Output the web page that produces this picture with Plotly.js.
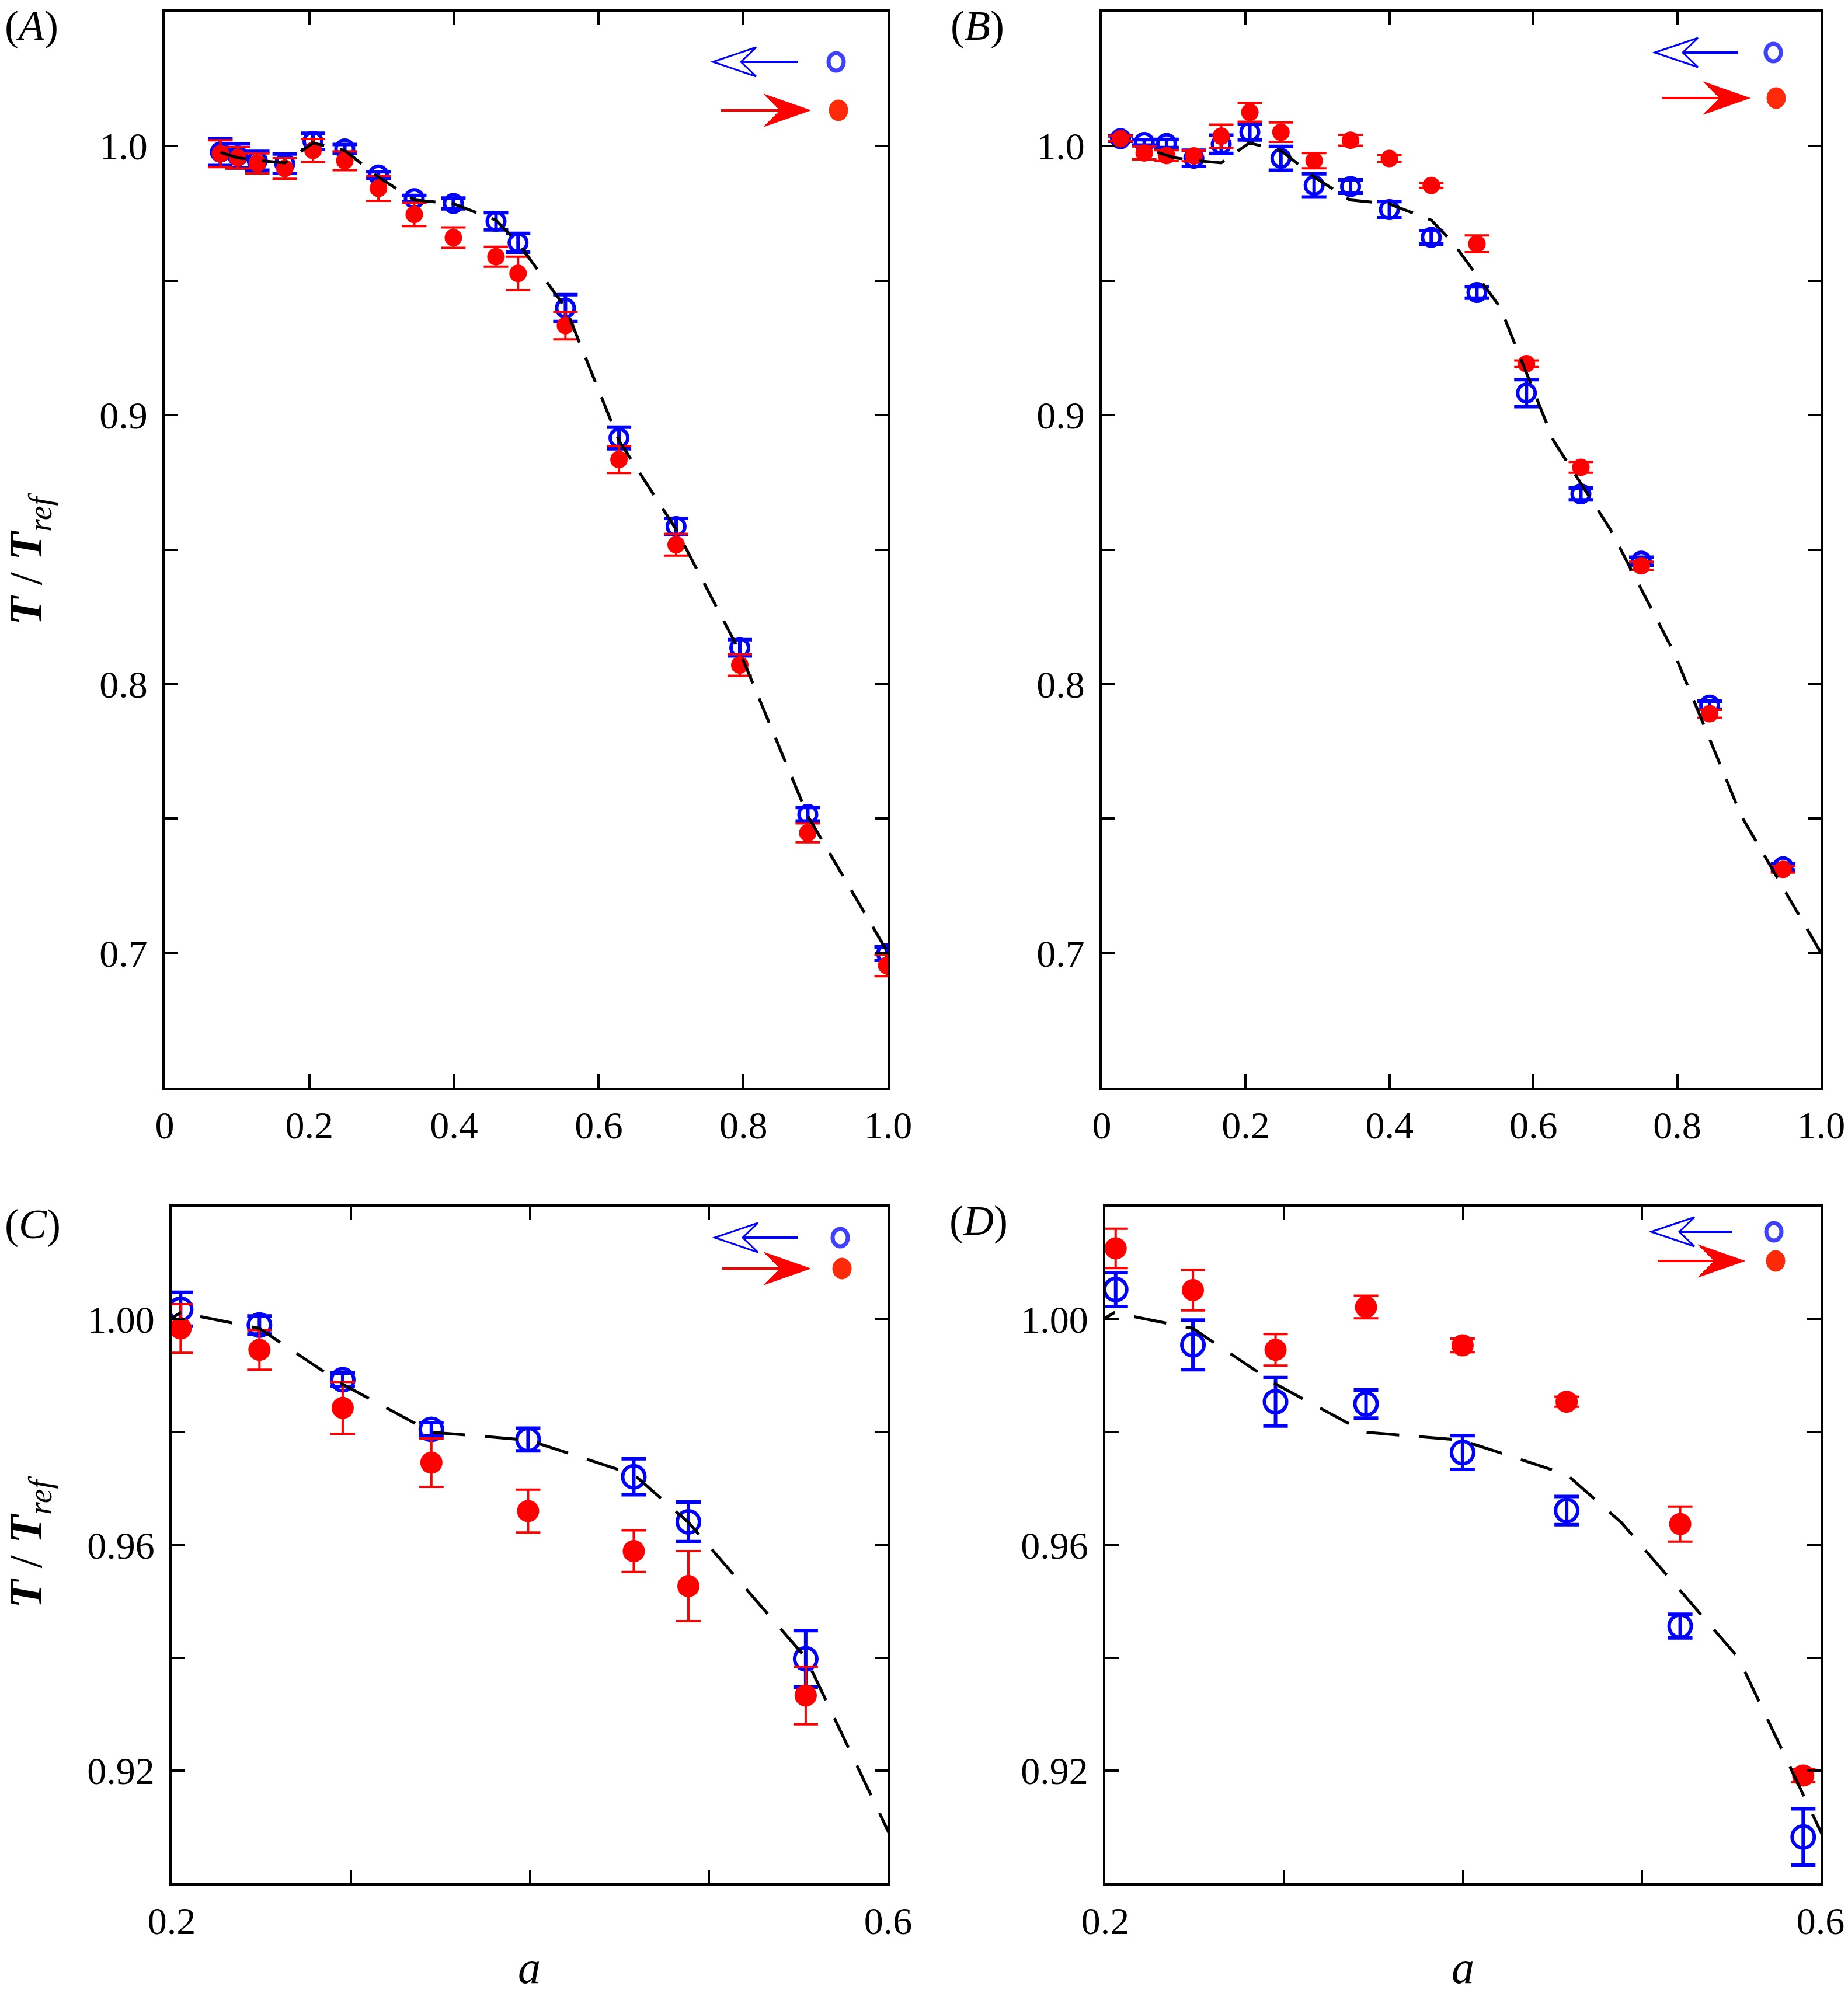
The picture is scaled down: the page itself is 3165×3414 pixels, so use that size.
<!DOCTYPE html>
<html>
<head>
<meta charset="utf-8">
<script src="https://cdn.plot.ly/plotly-3.0.1.min.js"></script>
<style>body{margin:0;background:#fff}</style>
</head>
<body>
<div id="chart"></div>
<script>
// panel (A) and its zoom (C)
var aA      = [0.077, 0.101, 0.128, 0.166, 0.205, 0.249, 0.2955, 0.345, 0.399, 0.458, 0.4885, 0.554, 0.628, 0.707, 0.795, 0.889, 0.998];
var blueA   = [0.9978, 0.9964, 0.9946, 0.9935, 1.0018, 0.9990, 0.9893, 0.9805, 0.9787, 0.9721, 0.9641, 0.9398, 0.8915, 0.8586, 0.8135, 0.7516, 0.6998];
var blueAerr= [0.005, 0.0045, 0.0035, 0.0036, 0.003, 0.0016, 0.0012, 0.0012, 0.002, 0.0032, 0.0035, 0.005, 0.004, 0.003, 0.003, 0.0025, 0.0025];
var redA    = [0.9972, 0.9957, 0.9936, 0.9917, 0.9984, 0.9946, 0.9843, 0.9746, 0.9660, 0.9589, 0.9527, 0.9333, 0.8835, 0.8518, 0.8071, 0.7447, 0.6954];
var redAerr = [0.005, 0.004, 0.0037, 0.0038, 0.0043, 0.0035, 0.0046, 0.0043, 0.0038, 0.0037, 0.0062, 0.0051, 0.005, 0.004, 0.004, 0.0035, 0.004];

// panel (B) and its zoom (D)
var aB      = [0.026, 0.059, 0.09, 0.128, 0.166, 0.2058, 0.249, 0.2952, 0.3458, 0.3998, 0.458, 0.5215, 0.5903, 0.666, 0.750, 0.845, 0.947];
var blueB   = [1.0028, 1.0014, 1.0010, 0.9955, 1.0007, 1.0053, 0.9955, 0.9854, 0.9850, 0.9764, 0.9661, 0.9456, 0.9082, 0.8707, 0.8457, 0.7922, 0.7321];
var blueBerr= [0.001, 0.001, 0.0015, 0.003, 0.0034, 0.003, 0.0044, 0.0043, 0.0025, 0.003, 0.0025, 0.0021, 0.005, 0.0022, 0.0015, 0.0015, 0.0012];
var redB    = [1.0028, 0.9975, 0.9965, 0.9964, 1.0037, 1.0126, 1.0052, 0.9946, 1.0022, 0.9954, 0.9854, 0.9637, 0.9191, 0.8806, 0.8440, 0.7890, 0.7311];
var redBerr = [0.001, 0.0024, 0.002, 0.002, 0.0043, 0.0035, 0.0036, 0.0028, 0.002, 0.0012, 0.0009, 0.0031, 0.0012, 0.002, 0.0015, 0.0015, 0.0012];

// dashed reference curve (same in all panels)
var aLine = [0.077, 0.101, 0.128, 0.166, 0.205, 0.249, 0.2955, 0.345, 0.399, 0.458, 0.4885, 0.554, 0.628, 0.707, 0.795, 0.889, 1.0];
var tLine = [0.9977, 0.9957, 0.9947, 0.9938, 1.0012, 0.9984, 0.9885, 0.9800, 0.9786, 0.9725, 0.9640, 0.9400, 0.8905, 0.8575, 0.8120, 0.7510, 0.7000];

// tick labels
var xTickTop = [0, 0.2, 0.4, 0.6, 0.8, 1.0];
var xTextTop = ['0', '0.2', '0.4', '0.6', '0.8', '1.0'];
var yTickTop = [0.7, 0.75, 0.8, 0.85, 0.9, 0.95, 1.0];
var yTextTop = ['0.7', ' ', '0.8', ' ', '0.9', ' ', '1.0'];
var xTickBot = [0.2, 0.3, 0.4, 0.5, 0.6];
var xTextBot = ['0.2', ' ', ' ', ' ', '0.6'];
var yTickBot = [0.92, 0.94, 0.96, 0.98, 1.00];
var yTextBot = ['0.92', ' ', '0.96', ' ', '1.00'];

var W = 3165, H = 3414;
function fx(p) { return p / W; }
function fy(p) { return 1 - p / H; }

var BLUE = '#0000ff', RED = '#ff0000';
var FONT = '"Liberation Serif", "Times New Roman", Times, serif';

function pts(x, y, err, n, color, open, size) {
  return {
    x: x, y: y, xaxis: 'x' + n, yaxis: 'y' + n,
    type: 'scatter', mode: 'markers', hoverinfo: 'skip',
    marker: open ? {symbol: 'circle-open', size: size, color: color, line: {width: 6, color: color}}
                 : {symbol: 'circle', size: size, color: color},
    error_y: {type: 'data', array: err, visible: true, color: color,
              thickness: open ? 6 : 4, width: 21}
  };
}
function curve(n, dash) {
  return {
    x: aLine, y: tLine, xaxis: 'x' + n, yaxis: 'y' + n,
    type: 'scatter', mode: 'lines', hoverinfo: 'skip',
    line: {color: '#000', width: 5, dash: dash}
  };
}

var data = [
  pts(aA, blueA, blueAerr, '', BLUE, true, 30),
  pts(aA, redA, redAerr, '', RED, false, 30),
  curve('', '45px,28px'),
  pts(aB, blueB, blueBerr, '2', BLUE, true, 30),
  pts(aB, redB, redBerr, '2', RED, false, 30),
  curve('2', '45px,28px'),
  pts(aA, blueA, blueAerr, '3', BLUE, true, 38),
  pts(aA, redA, redAerr, '3', RED, false, 38),
  curve('3', '56px,34px'),
  pts(aB, blueB, blueBerr, '4', BLUE, true, 38),
  pts(aB, redB, redBerr, '4', RED, false, 38),
  curve('4', '56px,34px')
];

var axisBase = {
  showline: true, linecolor: '#000', linewidth: 4, mirror: 'ticks',
  ticks: 'inside', ticklen: 23, tickwidth: 4, tickcolor: '#000',
  showgrid: false, zeroline: false, tickmode: 'array',
  ticklabeloverflow: 'allow',
  tickfont: {family: FONT, size: 66, color: '#000'}
};
function ax(extra) { return Object.assign({}, axisBase, extra); }

var domTopY = [fy(1863), fy(20)];
var domBotY = [fy(3226), fy(2067)];

var layout = {
  width: W, height: H, margin: {l: 0, r: 0, t: 0, b: 0},
  paper_bgcolor: '#fff', plot_bgcolor: '#fff', showlegend: false,
  font: {family: FONT, color: '#000'},
  xaxis:  ax({domain: [fx(282), fx(1521)], range: [0, 1], tickvals: xTickTop, ticktext: xTextTop, anchor: 'y', ticklabelstandoff: 4}),
  yaxis:  ax({domain: domTopY, range: [0.65, 1.05], tickvals: yTickTop, ticktext: yTextTop, anchor: 'x', ticklabelstandoff: 12}),
  xaxis2: ax({domain: [fx(1887), fx(3119)], range: [0, 1], tickvals: xTickTop, ticktext: xTextTop, anchor: 'y2', ticklabelstandoff: 4}),
  yaxis2: ax({domain: domTopY, range: [0.65, 1.05], tickvals: yTickTop, ticktext: yTextTop, anchor: 'x2', ticklabelstandoff: 12}),
  xaxis3: ax({domain: [fx(294), fx(1521)], range: [0.2, 0.6], tickvals: xTickBot, ticktext: xTextBot, anchor: 'y3', ticklabelstandoff: 4}),
  yaxis3: ax({domain: domBotY, range: [0.90, 1.02], tickvals: yTickBot, ticktext: yTextBot, anchor: 'x3', ticklabelstandoff: 12}),
  xaxis4: ax({domain: [fx(1893), fx(3118)], range: [0.2, 0.6], tickvals: xTickBot, ticktext: xTextBot, anchor: 'y4', ticklabelstandoff: 4}),
  yaxis4: ax({domain: domBotY, range: [0.90, 1.02], tickvals: yTickBot, ticktext: yTextBot, anchor: 'x4', ticklabelstandoff: 12}),
  annotations: [],
  shapes: []
};

function label(txt, x, y, size, extra) {
  layout.annotations.push(Object.assign({
    text: txt, xref: 'paper', yref: 'paper', x: fx(x), y: fy(y),
    xanchor: 'center', yanchor: 'middle', showarrow: false,
    font: {family: FONT, size: size, color: '#000'}
  }, extra || {}));
}
label('(<i>A</i>)', 6, 44, 72, {xanchor: 'left'});
label('(<i>B</i>)', 1626, 44, 72, {xanchor: 'left'});
label('(<i>C</i>)', 6, 2097, 72, {xanchor: 'left'});
label('(<i>D</i>)', 1624, 2091, 72, {xanchor: 'left'});
var yTitle = '<b><i>T</i></b> / <b><i>T</i></b><sub><i>ref</i></sub>';
label(yTitle, 50, 957, 80, {textangle: -90});
label(yTitle, 50, 2641, 80, {textangle: -90});
label('<i>a</i>', 907, 3370, 78);
label('<i>a</i>', 2505, 3370, 78);

// legend glyphs: hollow blue arrow pointing left, filled red arrow pointing right
function P(x, y) { return fx(x).toFixed(5) + ',' + fy(y).toFixed(5); }
function legend(g) {
  var L = 74, h = 25, nb = 48, rL = 80, rh = 28, rn = 52;
  layout.shapes.push({type: 'path', xref: 'paper', yref: 'paper',
    path: 'M' + P(g.bt + nb, g.by) + 'L' + P(g.bTail, g.by),
    line: {color: BLUE, width: 4}});
  layout.shapes.push({type: 'path', xref: 'paper', yref: 'paper',
    path: 'M' + P(g.bt, g.by) + 'L' + P(g.bt + L, g.by - h) + 'L' + P(g.bt + nb, g.by) +
          'L' + P(g.bt + L, g.by + h) + 'Z',
    line: {color: BLUE, width: 3}, fillcolor: 'rgba(0,0,0,0)'});
  layout.shapes.push({type: 'path', xref: 'paper', yref: 'paper',
    path: 'M' + P(g.rTail, g.ry) + 'L' + P(g.rt - rn, g.ry),
    line: {color: RED, width: 4}});
  layout.shapes.push({type: 'path', xref: 'paper', yref: 'paper',
    path: 'M' + P(g.rt, g.ry) + 'L' + P(g.rt - rL, g.ry - rh) + 'L' + P(g.rt - rn, g.ry) +
          'L' + P(g.rt - rL, g.ry + rh) + 'Z',
    line: {color: RED, width: 1}, fillcolor: RED});
  layout.shapes.push({type: 'circle', xref: 'paper', yref: 'paper',
    x0: fx(g.bc - 13), x1: fx(g.bc + 13), y0: fy(g.by + 15), y1: fy(g.by - 15),
    line: {color: '#4040ff', width: 7}, fillcolor: 'rgba(0,0,0,0)'});
  layout.shapes.push({type: 'circle', xref: 'paper', yref: 'paper',
    x0: fx(g.rc - 16), x1: fx(g.rc + 16), y0: fy(g.ry + 18), y1: fy(g.ry - 18),
    line: {color: '#ff2a0a', width: 1}, fillcolor: '#ff2a0a'});
}
legend({bt: 1221, bTail: 1367, by: 106, bc: 1432, rTail: 1235, rt: 1388, ry: 189, rc: 1436});
legend({bt: 2834, bTail: 2977, by: 90, bc: 3037, rTail: 2847, rt: 2997, ry: 168, rc: 3042});
legend({bt: 1224, bTail: 1367, by: 2120, bc: 1439, rTail: 1237, rt: 1388, ry: 2173, rc: 1442});
legend({bt: 2828, bTail: 2966, by: 2110, bc: 3038, rTail: 2840, rt: 2988, ry: 2160, rc: 3041});

Plotly.newPlot('chart', data, layout, {staticPlot: true});
</script>
</body>
</html>
